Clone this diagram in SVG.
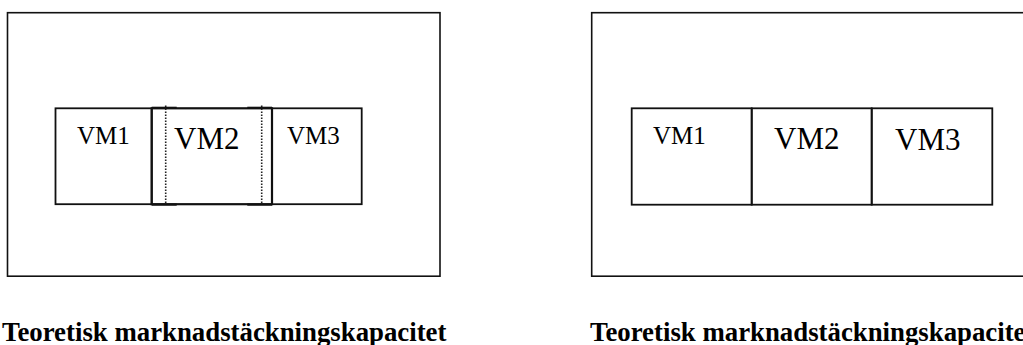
<svg xmlns="http://www.w3.org/2000/svg" width="1023" height="345" viewBox="0 0 1023 345">
  <style>
    .frame { fill: none; stroke: #111; stroke-width: 1.6; }
    .box { fill: none; stroke: #111; stroke-width: 1.8; }
    .edge { fill: none; stroke: #111; stroke-width: 2.2; }
    .dot { fill: none; stroke: #222; stroke-width: 1.6; stroke-dasharray: 1.5 1.5; }
    .lbl { font-family: "Liberation Serif", "Times New Roman", serif; fill: #000; }
    .s { font-size: 25px; }
    .l { font-size: 31px; }
    .cap { font-family: "Liberation Serif", "Times New Roman", serif; font-weight: bold; font-size: 26.8px; fill: #000; }
  </style>

  <!-- Left panel: overlapping VM capacity -->
  <g id="left-panel">
    <rect class="frame" x="7.5" y="12.7" width="432.5" height="263.5"/>
    <g id="left-vm1">
      <rect class="box" x="55.5" y="108.3" width="96.2" height="95.9"/>
      <text class="lbl s" x="77" y="144.3">VM1</text>
    </g>
    <g id="left-vm2">
      <rect class="edge" x="151.7" y="108.3" width="120.3" height="95.9"/>
      <text class="lbl l" x="174" y="149">VM2</text>
    </g>
    <g id="left-vm3">
      <rect class="box" x="272" y="108.3" width="89.7" height="95.9"/>
      <text class="lbl s" x="287" y="144.3">VM3</text>
    </g>
  </g>

  <!-- Overlap markers -->
  <g id="connectors">
    <line class="dot" x1="165.7" y1="105.5" x2="165.7" y2="204.2"/>
    <line class="dot" x1="261.7" y1="105.5" x2="261.7" y2="204.2"/>
    <line class="edge" x1="151.7" y1="107.8" x2="176.7" y2="107.8"/>
    <line class="edge" x1="247.3" y1="107.8" x2="272" y2="107.8"/>
    <line class="edge" x1="151.7" y1="204.6" x2="176.7" y2="204.6"/>
    <line class="edge" x1="247.3" y1="204.6" x2="272" y2="204.6"/>
  </g>

  <!-- Right panel: adjacent VM capacity -->
  <g id="right-panel">
    <rect class="frame" x="591.7" y="12.7" width="440" height="263.5"/>
    <g id="right-vm1">
      <rect class="box" x="631.7" y="108.3" width="120" height="96.4"/>
      <text class="lbl s" x="653" y="144.3">VM1</text>
    </g>
    <g id="right-vm2">
      <rect class="box" x="751.7" y="108.3" width="120" height="96.4"/>
      <text class="lbl l" x="774" y="149.3">VM2</text>
    </g>
    <g id="right-vm3">
      <rect class="box" x="871.7" y="108.3" width="120.6" height="96.4"/>
      <text class="lbl l" x="895" y="149.5">VM3</text>
    </g>
  </g>

  <!-- Captions -->
  <text id="caption-left" class="cap" x="2" y="341">Teoretisk marknadstäckningskapacitet</text>
  <text id="caption-right" class="cap" x="590" y="341">Teoretisk marknadstäckningskapacitet</text>
</svg>
